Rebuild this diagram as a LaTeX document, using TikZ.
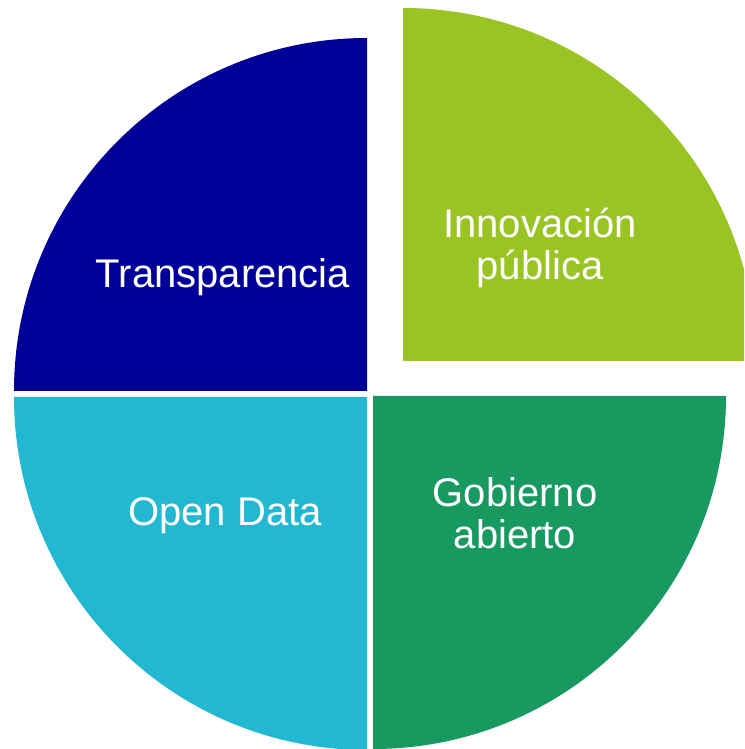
\documentclass[tikz,border=0pt]{standalone}
\usepackage{fontspec}
\setmainfont{Liberation Sans}
\definecolor{cDark}{RGB}{0,0,153}
\definecolor{cLime}{RGB}{154,195,36}
\definecolor{cGreen}{RGB}{23,153,96}
\definecolor{cCyan}{RGB}{35,184,209}
\begin{document}
\begin{tikzpicture}[x=1pt,y=1pt,
  lab/.style={text=white,font=\fontsize{40}{42}\selectfont,align=center,anchor=base,inner sep=0pt}]
\useasboundingbox (0,0) rectangle (744,749);
\clip (0,0) rectangle (744,749);
% top-left
\fill[cDark] (367,358) -- ++(180:353pt) arc[start angle=180,end angle=90,radius=353pt] -- cycle;
% top-right (exploded)
\fill[cLime] (403,388) -- ++(90:353pt) arc[start angle=90,end angle=0,radius=353pt] -- cycle;
% bottom-right
\fill[cGreen] (373,353) -- ++(0:353pt) arc[start angle=0,end angle=-90,radius=353pt] -- cycle;
% bottom-left
\fill[cCyan] (367,352) -- ++(-90:353pt) arc[start angle=-90,end angle=-180,radius=353pt] -- cycle;
\node[lab] (transp) at (223,461) {Transparencia};
\node[lab] (innov) at (540,469) {Innovación\\pública};
\node[lab] (gob) at (515,200) {Gobierno\\abierto};
\node[lab] (open) at (225,223) {Open Data};
\end{tikzpicture}
\end{document}
